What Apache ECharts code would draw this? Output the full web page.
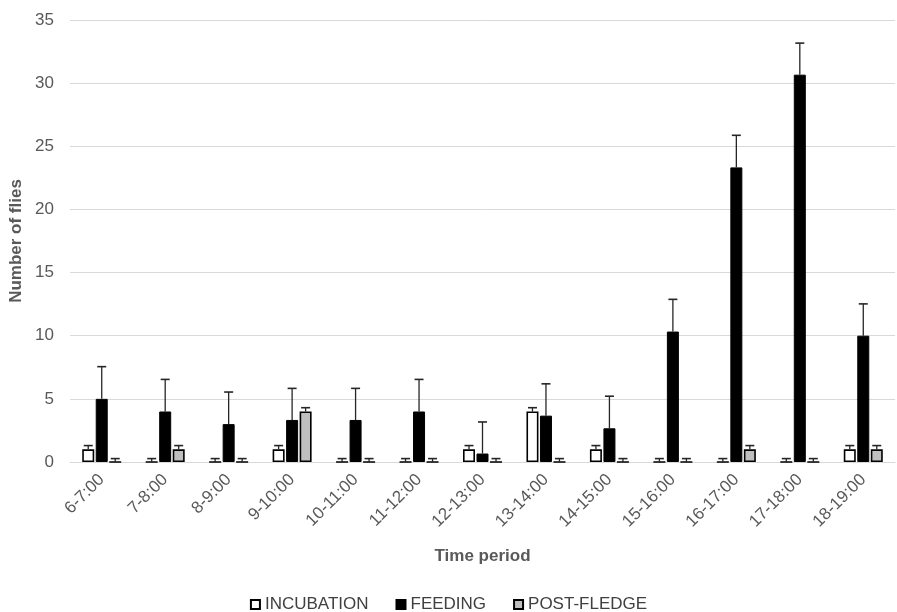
<!DOCTYPE html>
<html><head><meta charset="utf-8">
<script src="https://cdn.jsdelivr.net/npm/echarts@6/dist/echarts.min.js"></script>
<style>html,body{margin:0;padding:0;background:#fff}#c{width:897px;height:612px}</style>
</head><body><div id="c"></div>
<script>
var categories = ['6-7:00','7-8:00','8-9:00','9-10:00','10-11:00','11-12:00','12-13:00','13-14:00','14-15:00','15-16:00','16-17:00','17-18:00','18-19:00'];
var incubation = [1, 0, 0, 1, 0, 0, 1, 4, 1, 0, 0, 0, 1];
var incubationErr = [0.3, 0.27, 0.27, 0.3, 0.27, 0.27, 0.3, 0.3, 0.3, 0.27, 0.27, 0.27, 0.3];
var feeding = [5, 4, 3, 3.33, 3.33, 4, 0.67, 3.67, 2.67, 10.33, 23.33, 30.67, 10];
var feedingErr = [2.55, 2.54, 2.54, 2.5, 2.5, 2.54, 2.5, 2.52, 2.54, 2.55, 2.54, 2.5, 2.52];
var postFledge = [0, 1, 0, 4, 0, 0, 0, 0, 0, 0, 1, 0, 1];
var postFledgeErr = [0.27, 0.3, 0.27, 0.3, 0.27, 0.27, 0.27, 0.27, 0.27, 0.27, 0.3, 0.27, 0.3];
var seriesNames = ['INCUBATION', 'FEEDING', 'POST-FLEDGE'];
var yTicks = {min: 0, max: 35, interval: 5};

var FONT = '"Liberation Sans", Arial, sans-serif';
var BW = 12, GAPPX = 1.5;
var chart = echarts.init(document.getElementById('c'));

function errSeries(vals, errs, offsetIdx) {
  var data = vals.map(function (v, i) { return [i, v, errs[i]]; });
  return {
    type: 'custom',
    silent: true,
    z: 5,
    renderItem: function (params, api) {
      var i = api.value(0), v = api.value(1), e = api.value(2);
      var base = api.coord([i, v]);
      var top = api.coord([i, v + e]);
      var x = base[0] + offsetIdx * (BW + GAPPX);
      var hw = 4.5;
      return {
        type: 'group',
        children: [
          {type: 'line', shape: {x1: x, y1: base[1], x2: x, y2: top[1]}, style: {stroke: '#262626', lineWidth: 1.3}},
          {type: 'line', shape: {x1: x - hw, y1: top[1], x2: x + hw, y2: top[1]}, style: {stroke: '#262626', lineWidth: 1.6}}
        ]
      };
    },
    data: data
  };
}

var barCommon = {type: 'bar', barWidth: BW, barGap: (GAPPX / BW * 100) + '%', z: 3};

chart.setOption({
  animation: false,
  textStyle: {fontFamily: FONT},
  grid: {left: 70, right: 2, top: 20, bottom: 150, containLabel: false, outerBoundsMode: 'none'},
  legend: {
    data: seriesNames,
    top: 591,
    left: 'center',
    itemWidth: 9,
    itemHeight: 9,
    itemGap: 27,
    icon: 'rect',
    textStyle: {fontSize: 17, color: '#404040', fontFamily: FONT}
  },
  xAxis: {
    type: 'category',
    data: categories,
    name: 'Time period',
    nameLocation: 'middle',
    nameGap: 86,
    nameMoveOverlap: false,
    nameTextStyle: {fontSize: 17, fontWeight: 'bold', color: '#595959', fontFamily: FONT},
    axisLine: {lineStyle: {color: '#d9d9d9', width: 1}},
    axisTick: {show: false},
    axisLabel: {rotate: 45, fontSize: 17, color: '#595959', margin: 15, interval: 0, fontFamily: FONT}
  },
  yAxis: {
    type: 'value',
    min: yTicks.min, max: yTicks.max, interval: yTicks.interval,
    name: 'Number of flies',
    nameLocation: 'middle',
    nameGap: 45,
    nameMoveOverlap: false,
    nameTextStyle: {fontSize: 17, fontWeight: 'bold', color: '#595959', fontFamily: FONT},
    axisLine: {show: false},
    axisTick: {show: false},
    axisLabel: {fontSize: 17, color: '#595959', margin: 16, fontFamily: FONT},
    splitLine: {lineStyle: {color: '#d9d9d9', width: 1}}
  },
  series: [
    Object.assign({}, barCommon, {name: seriesNames[0], data: incubation, itemStyle: {color: '#ffffff', borderColor: '#000000', borderWidth: 1.6}}),
    Object.assign({}, barCommon, {name: seriesNames[1], data: feeding, itemStyle: {color: '#000000', borderColor: '#000000', borderWidth: 1}}),
    Object.assign({}, barCommon, {name: seriesNames[2], data: postFledge, itemStyle: {color: '#bfbfbf', borderColor: '#000000', borderWidth: 1.6}}),
    errSeries(incubation, incubationErr, -1),
    errSeries(feeding, feedingErr, 0),
    errSeries(postFledge, postFledgeErr, 1)
  ]
});
</script></body></html>
